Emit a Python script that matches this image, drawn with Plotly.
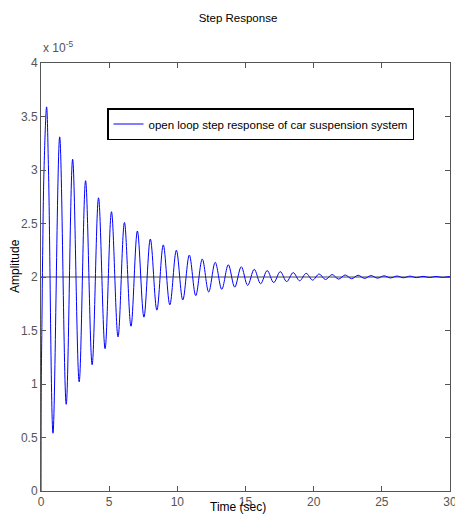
import plotly.graph_objects as go

# Step response of car suspension (amplitude in units of 1e-5)
rise_t = [0.0, 0.02, 0.07, 0.12, 0.22]
rise_amp = [0.0, 1.0, 1.6, 2.2, 3.0]

peaks_t = [0.41, 1.37, 2.32, 3.27, 4.22, 5.17, 6.12, 7.07, 8.02, 8.97, 9.93,
           10.88, 11.83, 12.78, 13.74, 14.69, 15.64, 16.59, 17.55, 18.50, 19.45,
           20.40, 21.35, 22.31, 23.26, 24.21, 25.16, 26.11, 27.06, 28.02, 28.97, 29.92]
peaks_amp = [3.59, 3.31, 3.10, 2.90, 2.74, 2.61, 2.51, 2.43, 2.355, 2.30, 2.25,
             2.205, 2.168, 2.137, 2.114, 2.096, 2.072, 2.060, 2.050, 2.041, 2.034,
             2.028, 2.023, 2.019, 2.016, 2.013, 2.011, 2.009, 2.008, 2.006, 2.005, 2.004]

fall_t = [0.55]
fall_amp = [3.0]

troughs_t = [0.88, 1.85, 2.80, 3.75, 4.70, 5.65, 6.60, 7.55, 8.50, 9.45, 10.40,
             11.35, 12.30, 13.26, 14.21, 15.16, 16.11, 17.07, 18.02, 18.97, 19.92,
             20.87, 21.83, 22.78, 23.73, 24.68, 25.63, 26.59, 27.54, 28.49, 29.44]
troughs_amp = [0.54, 0.81, 1.02, 1.18, 1.33, 1.44, 1.54, 1.625, 1.69, 1.74, 1.785,
               1.826, 1.86, 1.885, 1.905, 1.922, 1.937, 1.948, 1.957, 1.965, 1.971,
               1.976, 1.980, 1.984, 1.987, 1.989, 1.991, 1.993, 1.994, 1.995, 1.996]

end_t = [30.0]
end_amp = [2.003]

final_value = 2.0
x_ticks = [0, 5, 10, 15, 20, 25, 30]
y_ticks = [0, 0.5, 1, 1.5, 2, 2.5, 3, 3.5, 4]
y_ticklabels = ["0", "0.5", "1", "1.5", "2", "2.5", "3", "3.5", "4"]

pts = sorted(zip(rise_t + peaks_t + fall_t + troughs_t + end_t,
                 rise_amp + peaks_amp + fall_amp + troughs_amp + end_amp))
t = [p[0] for p in pts]
a = [p[1] for p in pts]

FONT = "Liberation Sans, Arial, sans-serif"

fig = go.Figure()
fig.add_trace(go.Scatter(
    x=[0, 30], y=[final_value, final_value], mode="lines",
    line=dict(color="#444444", width=1), showlegend=False, hoverinfo="skip"))
fig.add_trace(go.Scatter(
    x=t, y=a, mode="lines", line=dict(color="#0000ff", width=1, shape="spline", smoothing=1),
    name="open loop step response of car suspension system"))

fig.update_layout(
    width=455, height=514,
    margin=dict(l=41, r=5, t=63, b=23, autoexpand=False),
    paper_bgcolor="white", plot_bgcolor="white",
    font=dict(family=FONT, size=12, color="#555555"),
    title=dict(text="Step Response", x=238 / 455, xanchor="center", y=1 - 18 / 514, yanchor="middle",
               font=dict(family=FONT, size=11.5, color="#000000")),
    showlegend=True,
    legend=dict(x=(107 - 41) / 409, y=(491 - 108) / 428, xanchor="left", yanchor="top",
                bgcolor="white", bordercolor="#000000", borderwidth=1.5,
                font=dict(family=FONT, size=11.5, color="#000000")),
    xaxis=dict(range=[0, 30], tickvals=x_ticks, ticks="inside", ticklen=5, tickcolor="#555555",
               showline=True, linecolor="#555555", linewidth=1, mirror="ticks",
               ticklabeloverflow="allow",
               showgrid=False, zeroline=False, tickfont=dict(size=12, color="#555555")),
    yaxis=dict(range=[0, 4], tickvals=y_ticks, ticktext=y_ticklabels, ticks="inside", ticklen=5,
               tickcolor="#555555", showline=True, linecolor="#555555", linewidth=1, mirror="ticks",
               showgrid=False, zeroline=False, tickfont=dict(size=12, color="#555555")),
)

fig.add_annotation(text="x 10<sup>-5</sup>", xref="paper", yref="paper", x=0, y=1,
                   xanchor="left", yanchor="bottom", yshift=6, showarrow=False,
                   font=dict(family=FONT, size=12, color="#555555"))
fig.add_annotation(text="Time (sec)", xref="paper", yref="paper", x=(238 - 41) / 409, y=0,
                   xanchor="center", yanchor="middle", yshift=-16, showarrow=False,
                   font=dict(family=FONT, size=12, color="#000000"))
fig.add_annotation(text="Amplitude", xref="paper", yref="paper", x=0, y=(491 - 266) / 428,
                   xanchor="center", yanchor="middle", xshift=-26, textangle=-90, showarrow=False,
                   font=dict(family=FONT, size=12, color="#000000"))

fig.write_html("out.html")
